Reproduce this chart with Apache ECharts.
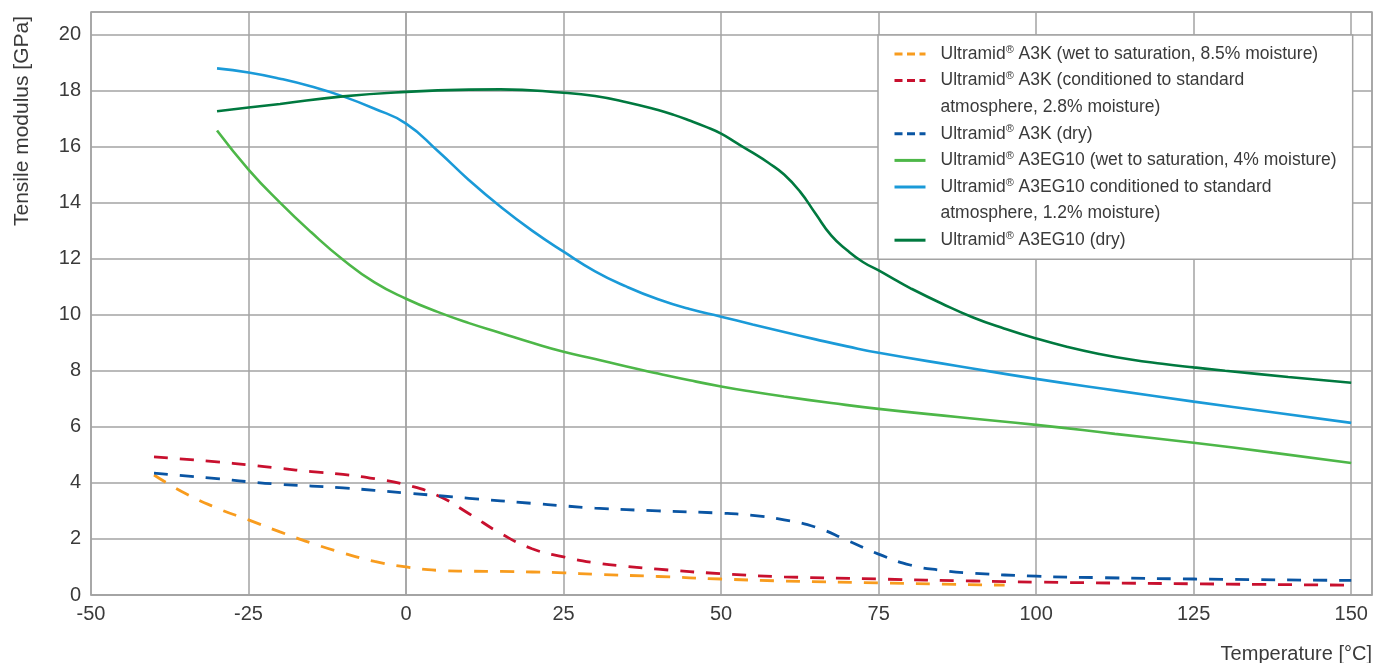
<!DOCTYPE html>
<html><head><meta charset="utf-8">
<script src="https://cdn.jsdelivr.net/npm/echarts@6/dist/echarts.min.js"></script>
<style>html,body{margin:0;padding:0;background:#fff}#c{width:1386px;height:663px}</style>
</head><body><div id="c"></div>
<script>
// ---- tick labels ----
const xTicks = [-50, -25, 0, 25, 50, 75, 100, 125, 150];
const yTicks = [0, 2, 4, 6, 8, 10, 12, 14, 16, 18, 20];

// ---- series names (legend lines) ----
const nameA3KWet = 'Ultramid® A3K (wet to saturation, 8.5% moisture)';
const nameA3KCond = 'Ultramid® A3K (conditioned to standard';
const nameA3KCond2 = 'atmosphere, 2.8% moisture)';
const nameA3KDry = 'Ultramid® A3K (dry)';
const nameGFWet = 'Ultramid® A3EG10 (wet to saturation, 4% moisture)';
const nameGFCond = 'Ultramid® A3EG10 conditioned to standard';
const nameGFCond2 = 'atmosphere, 1.2% moisture)';
const nameGFDry = 'Ultramid® A3EG10 (dry)';

// ---- data: [temperature °C, tensile modulus GPa] ----
const a3kWet = [[-40,4.28],[-35,3.62],[-30,3.1],[-25,2.68],[-20,2.25],[-15,1.85],[-10,1.5],[-5,1.2],[0,1.0],[5,0.88],[10,0.85],[15,0.84],[20,0.82],[25,0.79],[30,0.74],[40,0.66],[50,0.57],[60,0.5],[75,0.43],[85,0.39],[95,0.35]];
const a3kCond = [[-40,4.93],[-30,4.75],[-25,4.64],[-20,4.52],[-15,4.4],[-10,4.3],[-5,4.15],[0,3.93],[5,3.55],[10,2.9],[15,2.2],[20,1.65],[25,1.36],[30,1.15],[35,1.02],[40,0.92],[50,0.76],[60,0.65],[75,0.57],[90,0.5],[100,0.46],[125,0.4],[150,0.35]];
const a3kDry = [[-40,4.35],[-30,4.15],[-25,4.04],[-20,3.95],[-10,3.82],[0,3.64],[10,3.45],[20,3.27],[25,3.18],[30,3.1],[40,3.0],[50,2.92],[55,2.84],[60,2.68],[65,2.42],[70,1.95],[75,1.46],[80,1.07],[85,0.88],[90,0.78],[100,0.67],[110,0.62],[125,0.57],[150,0.52]];
const gfWet = [[-30,16.57],[-25,15.18],[-20,14.0],[-15,12.93],[-10,11.96],[-5,11.15],[0,10.57],[5,10.1],[10,9.7],[15,9.35],[20,9.0],[25,8.68],[30,8.42],[35,8.15],[40,7.9],[45,7.66],[50,7.44],[55,7.25],[60,7.08],[67.5,6.85],[75,6.64],[87.5,6.35],[100,6.07],[112.5,5.75],[125,5.43],[137.5,5.08],[150,4.71]];
const gfCond = [[-30,18.79],[-25,18.64],[-20,18.42],[-15,18.14],[-10,17.79],[-5,17.35],[0,16.82],[5,15.85],[10,14.8],[15,13.85],[20,13.0],[25,12.25],[30,11.55],[35,11.0],[40,10.55],[45,10.2],[50,9.93],[55,9.65],[60,9.38],[65,9.12],[70,8.87],[75,8.64],[87.5,8.17],[100,7.71],[112.5,7.3],[125,6.9],[137.5,6.52],[150,6.14]];
const gfDry = [[-30,17.26],[-25,17.39],[-20,17.52],[-10,17.79],[0,17.95],[10,18.03],[15,18.04],[25,17.92],[30,17.8],[35,17.58],[40,17.3],[42.5,17.13],[45,16.93],[47.5,16.71],[50,16.46],[52.5,16.12],[55,15.78],[57.5,15.42],[60,15.0],[62.5,14.4],[65,13.6],[67.5,12.82],[70,12.3],[72.5,11.88],[75,11.58],[77.5,11.26],[80,10.95],[85,10.4],[90,9.9],[95,9.5],[100,9.15],[105,8.85],[110,8.6],[115,8.4],[120,8.25],[125,8.12],[130,8.0],[140,7.78],[150,7.57]];

const FONT = 'Liberation Sans';
const TXT = '#3a3a3a';
const GRIDC = '#a3a3a3';

function lineSeries(name, data, color, dashed) {
  return {
    type: 'line', name: name, data: data, showSymbol: false, symbol: 'none',
    smooth: 0.5, z: 3,
    lineStyle: { color: color, width: dashed ? 2.8 : 2.6, type: dashed ? [14, 12] : 'solid' },
    itemStyle: { color: color },
    emphasis: { disabled: true }
  };
}
function dummySeries(name) {
  return { type: 'line', name: name, data: [], symbol: 'none',
    lineStyle: { color: 'rgba(0,0,0,0)' }, itemStyle: { color: 'rgba(0,0,0,0)' } };
}

const chart = echarts.init(document.getElementById('c'), null, { renderer: 'canvas' });
const legendDash = { type: [8, 4.5], width: 3 };
const legendSolid = { type: 'solid', width: 3 };
chart.setOption({
  animation: false,
  backgroundColor: '#fff',
  grid: { left: 91, right: 14, top: 12, bottom: 68, show: true, borderColor: GRIDC, borderWidth: 1.5, outerBoundsMode: 'none', containLabel: false },
  xAxis: {
    type: 'value', min: -50, max: 153.3, interval: 25,
    name: 'Temperature [°C]', nameLocation: 'end', nameGap: 0,
    nameTextStyle: { fontFamily: FONT, fontSize: 20, color: TXT, align: 'right', verticalAlign: 'top', padding: [49, 0, 0, 0] },
    axisLine: { show: true, lineStyle: { color: GRIDC, width: 1.5 } },
    axisTick: { show: false },
    splitLine: { show: true, lineStyle: { color: GRIDC, width: 1.5 } },
    axisLabel: { margin: 9, fontFamily: FONT, fontSize: 20, color: TXT, showMaxLabel: false,
      formatter: v => xTicks.indexOf(Math.round(v * 1000) / 1000) >= 0 ? String(v) : '' }
  },
  yAxis: {
    type: 'value', min: 0, max: 20.8, interval: 2,
    name: 'Tensile modulus [GPa]', nameLocation: 'middle', nameGap: 58,
    nameTextStyle: { fontFamily: FONT, fontSize: 21, color: TXT, padding: [0, 0, 0, 365] },
    axisLine: { show: true, lineStyle: { color: GRIDC, width: 1.5 } },
    axisTick: { show: false },
    splitLine: { show: true, lineStyle: { color: GRIDC, width: 1.5 } },
    axisLabel: { margin: 10, fontFamily: FONT, fontSize: 20, color: TXT, showMaxLabel: false,
      formatter: v => yTicks.indexOf(Math.round(v * 1000) / 1000) >= 0 ? String(v) : '' }
  },
  legend: {
    orient: 'vertical', left: 878, top: 35,
    backgroundColor: '#fff', borderColor: GRIDC, borderWidth: 1.5,
    padding: [8, 16, 8, 15], itemWidth: 31, itemHeight: 14, itemGap: 4.6,
    selectedMode: false,
    itemStyle: { opacity: 0 },
    lineStyle: { width: 3 },
    formatter: n => n.replace('®', '{r|®}'),
    textStyle: { fontFamily: FONT, fontSize: 17.5, color: TXT, lineHeight: 22, padding: [0, 0, 0, 10],
      rich: { r: { fontFamily: FONT, fontSize: 11, color: TXT, verticalAlign: 'top', lineHeight: 14, padding: [1, 0, 0, 0] } } },
    data: [
      { name: nameA3KWet, lineStyle: legendDash },
      { name: nameA3KCond, lineStyle: legendDash },
      { name: nameA3KCond2 },
      { name: nameA3KDry, lineStyle: legendDash },
      { name: nameGFWet, lineStyle: legendSolid },
      { name: nameGFCond, lineStyle: legendSolid },
      { name: nameGFCond2 },
      { name: nameGFDry, lineStyle: legendSolid }
    ]
  },
  series: [
    lineSeries(nameA3KWet, a3kWet, '#F89C1E', true),
    lineSeries(nameA3KCond, a3kCond, '#C8102E', true),
    dummySeries(nameA3KCond2),
    lineSeries(nameA3KDry, a3kDry, '#0A55A3', true),
    lineSeries(nameGFWet, gfWet, '#4DB748', false),
    lineSeries(nameGFCond, gfCond, '#1A9AD8', false),
    dummySeries(nameGFCond2),
    lineSeries(nameGFDry, gfDry, '#00793F', false)
  ]
});
</script>
</body></html>
